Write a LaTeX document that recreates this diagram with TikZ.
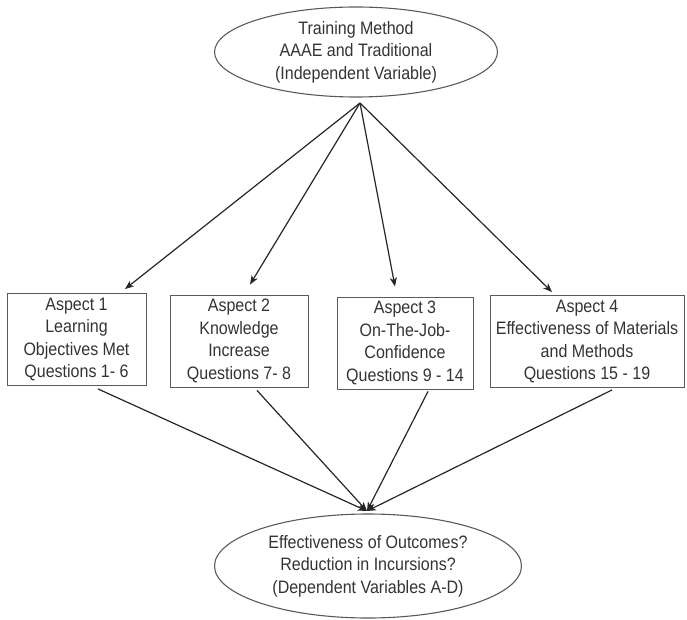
\documentclass[tikz,border=0pt]{standalone}
\usepackage{fontspec}
\setmainfont{Liberation Sans}
\newfontfamily\labelfont{Liberation Sans}[FakeStretch=0.89]
\usetikzlibrary{shapes.geometric,arrows.meta}
\definecolor{inkgray}{HTML}{333333}
\definecolor{framegray}{HTML}{5A5A5A}
\begin{document}
\begin{tikzpicture}[x=1pt,y=-1pt,
  txt/.style={font=\labelfont\fontsize{18}{22.5}\selectfont, text=inkgray, align=center, inner sep=0pt},
  varell/.style={txt, ellipse, draw=framegray, line width=1.1pt},
  aspectbox/.style={txt, rectangle, draw=framegray, line width=0.9pt, minimum height=92pt},
  link/.style={draw=black!85, line width=1.2pt, -{Stealth[length=9pt,width=7pt,inset=2.5pt]}}
]
\useasboundingbox (0,0) rectangle (687,620);

% independent variable
\node[varell, minimum width=283pt, minimum height=90pt] (iv) at (356,52)
  {Training Method\\AAAE and Traditional\\(Independent Variable)};

% the four aspects
\node[aspectbox, minimum width=139pt] (b1) at (76.5,339.5)
  {Aspect 1\\Learning\\Objectives Met\\Questions 1- 6};
\node[aspectbox, minimum width=138pt] (b2) at (239,341)
  {Aspect 2\\Knowledge\\Increase\\Questions 7- 8};
\node[aspectbox, minimum width=136pt] (b3) at (405,343)
  {Aspect 3\\On-The-Job-\\Confidence\\Questions 9 - 14};
\node[aspectbox, minimum width=194pt] (b4) at (587,341.5)
  {Aspect 4\\Effectiveness of Materials\\and Methods\\Questions 15 - 19};

% dependent variables
\node[varell, minimum width=307pt, minimum height=104pt] (dv) at (368,566)
  {Effectiveness of Outcomes?\\Reduction in Incursions?\\(Dependent Variables A-D)};

% fan-out and fan-in points
\coordinate (src) at (360,103);
\coordinate (sink) at (367,511);
\coordinate (t1) at ([xshift=48.5pt,yshift=4pt]b1.north);
\coordinate (t2) at ([xshift=11pt,yshift=10pt]b2.north);
\coordinate (t3) at ([xshift=-10pt,yshift=10pt]b3.north);
\coordinate (t4) at ([xshift=-35pt,yshift=3pt]b4.north);
\coordinate (s1) at ([xshift=21.5pt,yshift=-3pt]b1.south);
\coordinate (s2) at ([xshift=18pt,yshift=-3pt]b2.south);
\coordinate (s3) at ([xshift=23pt,yshift=-2pt]b3.south);
\coordinate (s4) at ([xshift=25pt,yshift=-2pt]b4.south);

\foreach \k in {1,2,3,4} {
  \draw[link] (src) -- (t\k);
  \draw[link] (s\k) -- (sink);
}
\end{tikzpicture}
\end{document}
